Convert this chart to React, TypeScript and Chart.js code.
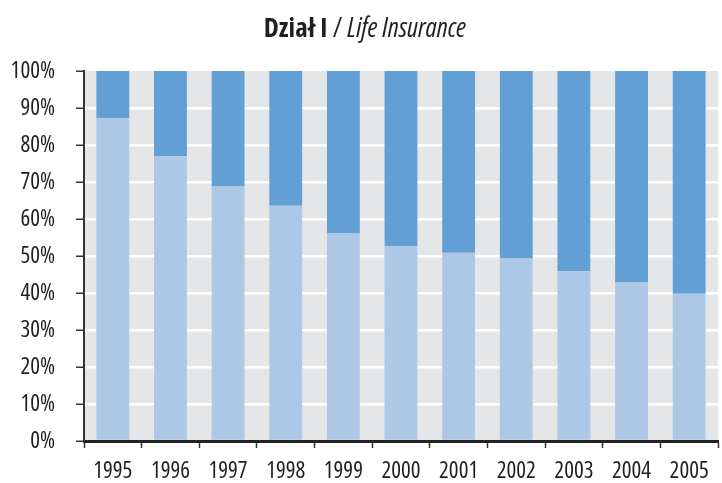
import React, { useEffect, useRef } from "react";
import { Chart, registerables } from "chart.js";

Chart.register(...registerables);

const years = ["1995", "1996", "1997", "1998", "1999", "2000", "2001", "2002", "2003", "2004", "2005"];
const lifeShare = [87.3, 77.0, 68.9, 63.6, 56.1, 52.7, 50.9, 49.3, 45.9, 43.0, 39.8];
const otherShare = lifeShare.map((v) => +(100 - v).toFixed(1));
const yTicks = [0, 10, 20, 30, 40, 50, 60, 70, 80, 90, 100];

const FONT = "'Open Sans', 'Roboto', sans-serif";

export default function App() {
  const ref = useRef<HTMLCanvasElement | null>(null);
  useEffect(() => {
    document.body.style.margin = "0";
    const ctx = ref.current!.getContext("2d")!;
    const chart = new Chart(ctx, {
      type: "bar",
      data: {
        labels: years,
        datasets: [
          {
            label: "Life",
            data: lifeShare,
            backgroundColor: "#adc8e7",
            categoryPercentage: 1,
            barPercentage: 0.57,
          },
          {
            label: "Other",
            data: otherShare,
            backgroundColor: "#629fd5",
            categoryPercentage: 1,
            barPercentage: 0.57,
          },
        ],
      },
      options: {
        animation: false,
        responsive: false,
        maintainAspectRatio: false,
        layout: { padding: { top: 71, right: 4, left: 0, bottom: 0 } },
        plugins: {
          legend: { display: false },
          title: { display: false },
          tooltip: { enabled: false },
        },
        scales: {
          x: {
            stacked: true,
            offset: true,
            grid: {
              offset: true,
              drawOnChartArea: false,
              tickLength: 7,
              tickColor: "#333",
              tickWidth: 1.5,
            },
            border: { color: "#222", width: 3 },
            ticks: {
              color: "#231f20",
              font: { family: FONT, size: 23, weight: "condensed" as any },
              padding: 10,
              maxRotation: 0,
            },
            afterFit: (s: any) => {
              s.height = 42;
            },
          },
          y: {
            stacked: true,
            min: 0,
            max: 100,
            afterBuildTicks: (s: any) => {
              s.ticks = yTicks.map((v) => ({ value: v }));
            },
            grid: {
              color: (c: any) => (c.tick && (c.tick.value === 0 || c.tick.value === 100) ? "rgba(0,0,0,0)" : "#ffffff"),
              lineWidth: 2.5,
              tickLength: 8,
              tickColor: "#333",
              tickWidth: 1.5,
            },
            border: { color: "#333", width: 2 },
            ticks: {
              color: "#231f20",
              font: { family: FONT, size: 23, weight: "condensed" as any },
              padding: 21,
              callback: (v: any) => v + "%",
            },
            afterFit: (s: any) => {
              s.width = 84;
            },
          },
        },
      },
      plugins: [
        {
          id: "bg",
          beforeDraw: (c: any) => {
            const a = c.chartArea;
            const g = c.ctx;
            g.save();
            g.fillStyle = "#e5e6e8";
            g.fillRect(a.left, a.top, a.right - a.left, a.bottom - a.top);
            g.restore();
          },
        },
      ],
    });
    return () => chart.destroy();
  }, []);
  return (
    <div style={{ position: "relative", width: 722, height: 483, background: "#fff" }}>
      <div
        style={{
          position: "absolute",
          top: 9,
          left: 0,
          width: 722,
          textAlign: "center",
          fontFamily: FONT,
          fontStretch: "condensed",
          fontSize: 27,
          color: "#231f20",
          lineHeight: "36px",
          paddingLeft: 8,
          boxSizing: "border-box",
        }}
      >
        <span style={{ fontWeight: "bold" }}>Dział I</span>
        <span> / </span>
        <span style={{ fontStyle: "italic" }}>Life Insurance</span>
      </div>
      <canvas ref={ref} width={722} height={483} style={{ display: "block" }} />
    </div>
  );
}
